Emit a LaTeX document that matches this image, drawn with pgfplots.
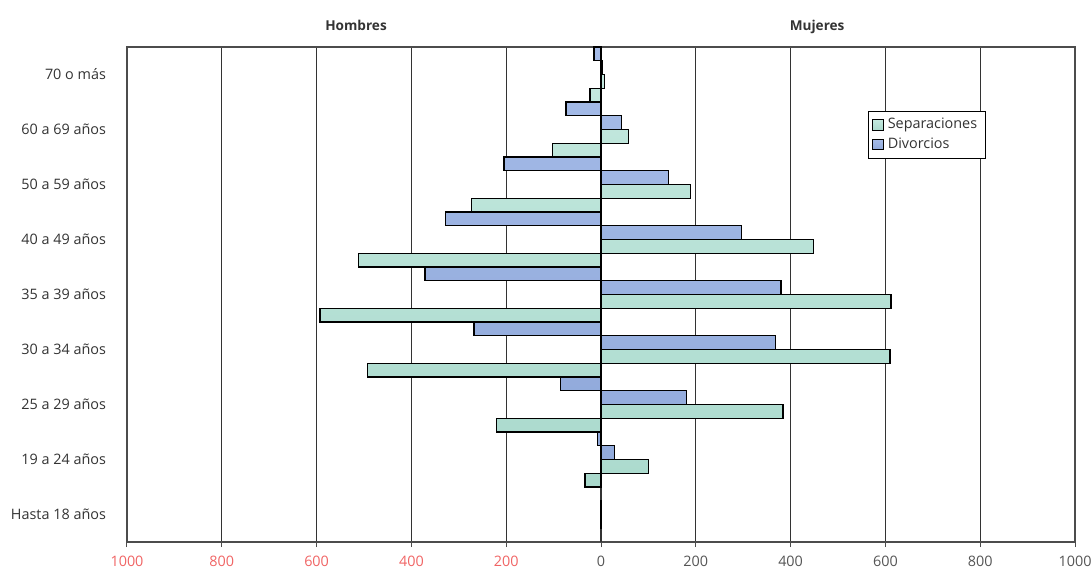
\documentclass[border=0pt]{standalone}
\usepackage{pgfplots}
\pgfplotsset{compat=1.18}
\usepackage{fontspec}
\setmainfont{Open Sans}
\definecolor{txt}{HTML}{333333}
\definecolor{redlab}{HTML}{F06464}
\definecolor{graylab}{HTML}{555555}
\definecolor{sepC}{HTML}{C3E8DE}
\definecolor{sepM}{HTML}{E8F7F3}
\definecolor{sepD}{HTML}{A9D9CC}
\definecolor{divC}{HTML}{A6BCE8}
\definecolor{divM}{HTML}{D0DCF4}
\definecolor{divD}{HTML}{8FA8DA}
\begin{document}
\begin{tikzpicture}
\path[use as bounding box] (-63.5pt,-13pt) rectangle (482pt,271pt);
\begin{axis}[
  at={(0,0)}, anchor=south west,
  scale only axis, width=474pt, height=247.5pt,
  xmin=-1000, xmax=1000, ymin=-0.5, ymax=8.5,
  xbar, bar width=0.25, bar shift=0pt,
  xtick={-1000,-800,...,1000},
  xticklabels={\textcolor{redlab}{1000},\textcolor{redlab}{800},\textcolor{redlab}{600},\textcolor{redlab}{400},\textcolor{redlab}{200},\textcolor{graylab}{0},\textcolor{graylab}{200},\textcolor{graylab}{400},\textcolor{graylab}{600},\textcolor{graylab}{800},\textcolor{graylab}{1000}},
  ytick={0,...,8},
  yticklabels={Hasta 18 años,19 a 24 años,25 a 29 años,30 a 34 años,35 a 39 años,40 a 49 años,50 a 59 años,60 a 69 años,70 o más},
  ytick style={draw=none},
  xtick pos=bottom, tick align=outside, major tick length=2.5pt,
  xtick style={draw=black!70, line width=0.5pt},
  xmajorgrids, major grid style={draw=black!80, line width=0.6pt},
  extra x ticks={0}, extra x tick labels={},
  extra x tick style={grid style={draw=black, line width=1.1pt}},
  axis line style={draw=black!70, line width=0.6pt},
  tick label style={font=\fontsize{7.2}{8.5}\selectfont},
  yticklabel style={text=txt, xshift=-4.5pt},
  xticklabel style={yshift=-1pt},
  legend style={at={(0.7816,0.8707)}, anchor=north west, draw=black, line width=0.4pt,
    font=\fontsize{7.2}{8.5}\selectfont, text=txt, inner xsep=2pt, inner ysep=1.5pt, row sep=-1.2pt,
    cells={anchor=west}},
  legend image code/.code={\draw[#1, line width=0.5pt] (0pt,-2.6pt) rectangle (5.2pt,2.6pt);},
  every axis plot/.append style={draw=black, line width=0.7pt},
  clip=false,
]
% Mujeres - Separaciones
\addplot[draw=black, top color=sepC, middle color=sepM, bottom color=sepD] coordinates {
 (0.5,-0.125) (100,0.875) (384,1.875) (610,2.875) (612,3.875) (448,4.875) (189,5.875) (58,6.875) (8,7.875)};
\addlegendentry{Separaciones}
% Mujeres - Divorcios
\addplot[draw=black, top color=divC, middle color=divM, bottom color=divD] coordinates {
 (0.5,0.125) (28,1.125) (180,2.125) (368,3.125) (380,4.125) (297,5.125) (142,6.125) (43,7.125) (3,8.125)};
\addlegendentry{Divorcios}
% Hombres - Separaciones
\addplot[forget plot, draw=black, top color=sepC, middle color=sepM, bottom color=sepD] coordinates {
 (-34,0.625) (-220,1.625) (-492,2.625) (-593,3.625) (-511,4.625) (-273,5.625) (-102,6.625) (-23,7.625)};
% Hombres - Divorcios
\addplot[forget plot, draw=black, top color=divC, middle color=divM, bottom color=divD] coordinates {
 (-8,1.375) (-85,2.375) (-268,3.375) (-371,4.375) (-328,5.375) (-205,6.375) (-74,7.375) (-15,8.375)};
\node[anchor=base, font=\bfseries\fontsize{6.8}{8}\selectfont, text=txt] at (axis description cs:0.2416,1.0343) {Hombres};
\node[anchor=base, font=\bfseries\fontsize{6.8}{8}\selectfont, text=txt] at (axis description cs:0.728,1.0343) {Mujeres};
\end{axis}
\end{tikzpicture}
\end{document}
